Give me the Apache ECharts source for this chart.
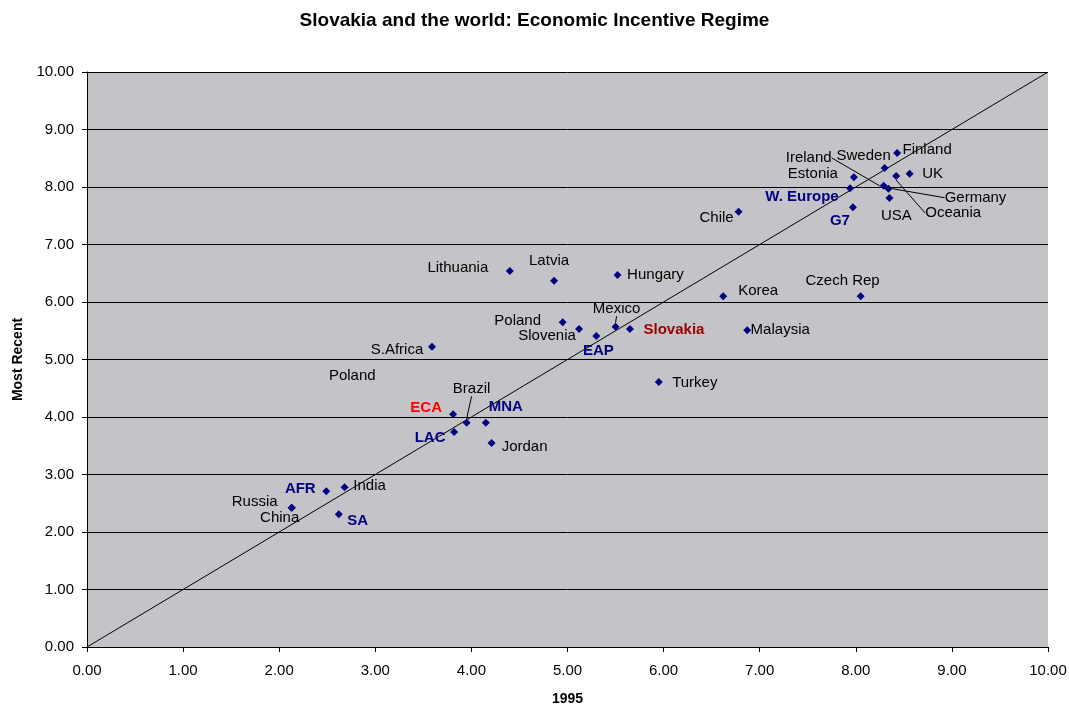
<!DOCTYPE html>
<html>
<head>
<meta charset="utf-8">
<script src="https://cdn.jsdelivr.net/npm/echarts@6/dist/echarts.min.js"></script>
<style>
  html, body { margin: 0; padding: 0; background: #fff; }
  #chart { width: 1069px; height: 706px; }
</style>
</head>
<body>
<div id="chart"></div>
<script>
// Economic incentive regime scores: 1995 vs most recent
const countries = ['Finland','Sweden','UK','Estonia','Ireland','Germany','Oceania','USA','W. Europe','G7',
  'Chile','Lithuania','Latvia','Hungary','Korea','Czech Rep','Malaysia','Poland','Slovenia','EAP',
  'Mexico','Slovakia','S.Africa','Turkey','ECA','Brazil','MNA','LAC','Jordan','AFR','India','Russia','China','SA'];
const score1995 = [8.43,8.30,8.56,7.98,8.29,8.34,8.42,8.35,7.94,7.97,
  6.78,4.40,4.86,5.52,6.62,8.05,6.87,4.95,5.12,5.30,
  5.50,5.65,3.59,5.95,3.81,3.95,4.15,3.82,4.21,2.49,2.68,2.13,2.13,2.62];
const scoreRecent = [8.59,8.33,8.23,8.17,8.02,7.97,8.19,7.81,7.98,7.65,
  7.57,6.54,6.37,6.47,6.10,6.10,5.51,5.65,5.53,5.41,
  5.57,5.53,5.22,4.61,4.05,3.90,3.90,3.74,3.55,2.71,2.78,2.42,2.42,2.31];
const regionGroups = ['W. Europe','G7','EAP','MNA','LAC','AFR','SA'];
const axisTicks = [0,1,2,3,4,5,6,7,8,9,10];

// label placement (pixel shift of the label centre from its marker), and which ones get a leader line
const labelShift = {
  'Finland':[30,-3],'Sweden':[-21,-12],'UK':[23,0],'Estonia':[-41,-3],'Ireland':[-75,-28],
  'Germany':[87,9],'Oceania':[57,37],'USA':[7,18],'W. Europe':[-48,9],'G7':[-13,14],
  'Chile':[-22,6],'Lithuania':[-52,-3],'Latvia':[-5,-20],'Hungary':[38,0],'Korea':[35,-5],
  'Czech Rep':[-18,-15],'Malaysia':[33,0],'Poland':[-45,-1],'Slovenia':[-32,7],'EAP':[2,15],
  'Mexico':[1,-18],'Slovakia':[44,1],'S.Africa':[-35,3],'Turkey':[36,1],'ECA':[-27,-6],
  'Brazil':[5,-34],'MNA':[20,-16],'LAC':[-24,6],'Jordan':[33,4],'AFR':[-26,-2],
  'India':[25,-1],'Russia':[-37,-6],'China':[-12,10],'SA':[19,7]
};
const withLeader = ['Ireland','Germany','Oceania','Mexico','Brazil'];

const FONT = '"Liberation Sans", Arial, sans-serif';
const NAVY = '#000080';

function labelStyleFor(name) {
  if (name === 'ECA') return { color: '#FF0000', fontWeight: 'bold' };
  if (name === 'Slovakia') return { color: '#990000', fontWeight: 'bold' };
  if (regionGroups.includes(name)) return { color: NAVY, fontWeight: 'bold' };
  return { color: '#000', fontWeight: 'normal' };
}

const points = countries.map((name, i) => ({
  name: name,
  value: [score1995[i], scoreRecent[i]],
  label: labelStyleFor(name),
  labelLine: { show: withLeader.includes(name), lineStyle: { color: '#000', width: 1 } }
}));

const axisLabelStyle = { fontFamily: FONT, fontSize: 15, color: '#000', formatter: v => v.toFixed(2) };

const chart = echarts.init(document.getElementById('chart'));
chart.setOption({
  animation: false,
  backgroundColor: '#fff',
  title: {
    text: 'Slovakia and the world: Economic Incentive Regime',
    left: 'center', top: 6,
    textStyle: { fontFamily: FONT, fontSize: 19, fontWeight: 'bold', color: '#000' }
  },
  grid: {
    left: 87, right: 21, top: 72, bottom: 59,
    outerBoundsMode: 'none', containLabel: false,
    show: true, backgroundColor: '#C4C3C7', borderWidth: 0
  },
  xAxis: {
    type: 'value', min: axisTicks[0], max: axisTicks[axisTicks.length - 1], interval: 1,
    name: '1995', nameLocation: 'middle', nameGap: 45,
    nameTextStyle: { fontFamily: FONT, fontSize: 14, fontWeight: 'bold', color: '#000' },
    axisLine: { show: true, lineStyle: { color: '#000', width: 1 } },
    axisTick: { show: true, inside: false, length: 5, lineStyle: { color: '#000' } },
    axisLabel: Object.assign({ margin: 16 }, axisLabelStyle),
    splitLine: { show: false }
  },
  yAxis: {
    type: 'value', min: axisTicks[0], max: axisTicks[axisTicks.length - 1], interval: 1,
    name: 'Most Recent', nameLocation: 'middle', nameRotate: 90, nameGap: 62,
    nameTextStyle: { fontFamily: FONT, fontSize: 14, fontWeight: 'bold', color: '#000' },
    axisLine: { show: true, lineStyle: { color: '#000', width: 1 } },
    axisTick: { show: true, inside: false, length: 5, lineStyle: { color: '#000' } },
    axisLabel: Object.assign({ margin: 13 }, axisLabelStyle),
    splitLine: { show: true, lineStyle: { color: '#000', width: 1 } }
  },
  series: [
    {
      // 45-degree reference line: no change between the two periods
      type: 'line',
      data: [[axisTicks[0], axisTicks[0]], [axisTicks[axisTicks.length - 1], axisTicks[axisTicks.length - 1]]],
      showSymbol: false, silent: true,
      lineStyle: { color: '#000', width: 1 },
      z: 3
    },
    {
      type: 'scatter',
      symbol: 'diamond',
      symbolSize: 8,
      itemStyle: { color: NAVY, opacity: 1 },
      data: points,
      label: {
        show: true, position: 'inside',
        formatter: p => p.name,
        fontFamily: FONT, fontSize: 15,
        textBorderWidth: 0, textBorderColor: 'transparent'
      },
      labelLayout: function (params) {
        const name = countries[params.dataIndex];
        const s = labelShift[name] || [0, 0];
        return { dx: s[0], dy: s[1] };
      },
      z: 4
    },
    {
      // stray label with no marker
      type: 'scatter',
      symbolSize: 0,
      silent: true,
      itemStyle: { opacity: 1 },
      data: [{ name: 'Poland', value: [2.76, 4.71] }],
      label: {
        show: true, position: 'inside', formatter: p => p.name,
        fontFamily: FONT, fontSize: 15, color: '#000',
        textBorderWidth: 0, textBorderColor: 'transparent'
      }
    }
  ]
});
</script>
</body>
</html>
